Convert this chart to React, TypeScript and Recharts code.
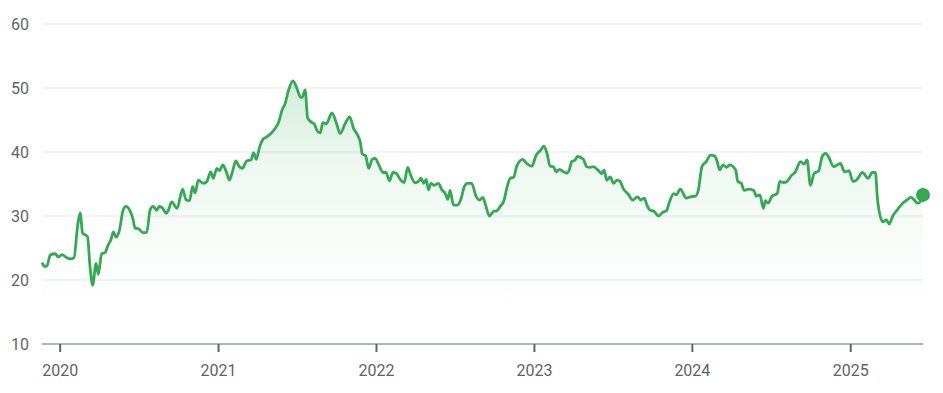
import React from 'react';
import { ComposedChart, Area, XAxis, YAxis, CartesianGrid, ReferenceDot } from 'recharts';

const dates: string[] = [
  '2019-11-20','2019-11-27','2019-12-02','2019-12-09','2019-12-20','2019-12-28',
  '2020-01-05','2020-01-16','2020-01-24','2020-02-02','2020-02-10','2020-02-16','2020-02-22','2020-02-27',
  '2020-03-04','2020-03-10','2020-03-16','2020-03-24','2020-03-29','2020-04-06','2020-04-14','2020-04-21',
  '2020-04-27','2020-05-03','2020-05-09','2020-05-17','2020-05-25','2020-06-01','2020-06-09','2020-06-17',
  '2020-06-22','2020-06-30','2020-07-10','2020-07-19','2020-07-27','2020-08-03','2020-08-11','2020-08-17',
  '2020-08-25','2020-09-02','2020-09-07','2020-09-15','2020-09-27','2020-10-10','2020-10-18','2020-10-26',
  '2020-11-02','2020-11-08','2020-11-15','2020-11-27','2020-12-05','2020-12-14','2020-12-20','2020-12-28',
  '2021-01-03','2021-01-11','2021-01-19','2021-01-26','2021-02-02','2021-02-10','2021-02-18','2021-02-25',
  '2021-03-07','2021-03-17','2021-03-23','2021-03-29','2021-04-06','2021-04-14','2021-04-23','2021-05-02',
  '2021-05-12','2021-05-20','2021-05-28','2021-06-04','2021-06-12','2021-06-22','2021-07-01','2021-07-09',
  '2021-07-13','2021-07-20','2021-07-26','2021-08-05','2021-08-10','2021-08-18','2021-08-24','2021-08-30',
  '2021-09-07','2021-09-20','2021-09-30','2021-10-09','2021-10-21','2021-10-31','2021-11-09','2021-11-18',
  '2021-11-25','2021-11-29','2021-12-07','2021-12-14','2021-12-22','2021-12-29',
  '2022-01-05','2022-01-16','2022-01-23','2022-01-31','2022-02-08','2022-02-15','2022-02-25','2022-03-06',
  '2022-03-14','2022-03-21','2022-03-31','2022-04-08','2022-04-14','2022-04-20','2022-04-26','2022-05-01',
  '2022-05-07','2022-05-14','2022-05-24','2022-06-01','2022-06-09','2022-06-15','2022-06-20','2022-06-28',
  '2022-07-07','2022-07-15','2022-07-23','2022-07-30','2022-08-09','2022-08-19','2022-08-27','2022-09-04',
  '2022-09-09','2022-09-19','2022-09-28','2022-10-06','2022-10-14','2022-10-23','2022-10-29','2022-11-06',
  '2022-11-14','2022-11-21','2022-12-05','2022-12-14','2022-12-26',
  '2023-01-05','2023-01-14','2023-01-23','2023-01-30','2023-02-06','2023-02-14','2023-02-20','2023-02-28',
  '2023-03-09','2023-03-17','2023-03-23','2023-03-28','2023-04-05','2023-04-10','2023-04-24','2023-05-02',
  '2023-05-10','2023-05-17','2023-05-29','2023-06-06','2023-06-11','2023-06-17','2023-06-25','2023-07-03',
  '2023-07-11','2023-07-18','2023-07-26','2023-08-06','2023-08-16','2023-08-27','2023-09-04','2023-09-12',
  '2023-09-18','2023-09-26','2023-10-03','2023-10-15','2023-10-25','2023-11-02','2023-11-09','2023-11-19',
  '2023-11-25','2023-12-04','2023-12-18','2023-12-27',
  '2024-01-08','2024-01-15','2024-01-23','2024-02-02','2024-02-12','2024-02-21','2024-02-27','2024-03-04',
  '2024-03-12','2024-03-20','2024-03-27','2024-04-10','2024-04-15','2024-04-23','2024-04-30','2024-05-10',
  '2024-05-22','2024-05-28','2024-06-05','2024-06-13','2024-06-18','2024-06-24','2024-07-03','2024-07-15',
  '2024-07-21','2024-07-30','2024-08-07','2024-08-16','2024-08-26','2024-09-07','2024-09-15','2024-09-22',
  '2024-09-30','2024-10-08','2024-10-19','2024-10-27','2024-11-04','2024-11-11','2024-11-23','2024-12-01',
  '2024-12-08','2024-12-18','2024-12-28',
  '2025-01-06','2025-01-14','2025-01-28','2025-02-10','2025-02-20','2025-02-27','2025-03-04','2025-03-16',
  '2025-03-24','2025-03-31','2025-04-08','2025-04-19','2025-05-01','2025-05-11','2025-05-20','2025-05-28',
  '2025-06-04','2025-06-10','2025-06-17',
];

const prices: number[] = [
  22.7, 22.1, 22.3, 23.9, 24.1, 23.6,
  23.95, 23.5, 23.3, 23.5, 28.3, 30.5, 27.3, 27.1,
  26.8, 22.1, 19.2, 22.6, 20.9, 24.1, 24.3, 25.5,
  26.25, 27.5, 26.7, 27.8, 30.8, 31.5, 31.0, 29.6,
  28.1, 28.0, 27.4, 27.45, 31.0, 31.5, 30.9, 31.5,
  31.2, 30.4, 30.9, 32.2, 31.2, 34.2, 32.5, 32.4,
  34.6, 33.6, 35.6, 35.1, 35.4, 36.9, 35.9, 37.45,
  37.1, 38.0, 36.9, 35.6, 36.9, 38.6, 37.7, 37.45,
  38.6, 38.75, 39.9, 38.85, 40.8, 42.0, 42.4, 42.9,
  43.7, 44.7, 46.6, 47.6, 49.7, 51.1, 49.95, 48.6,
  48.5, 49.7, 45.3, 44.6, 44.4, 43.2, 43.0, 44.6,
  44.4, 46.1, 44.6, 42.9, 44.5, 45.5, 43.7, 42.7,
  41.4, 39.7, 39.4, 37.45, 38.85, 39.0,
  38.2, 36.8, 36.8, 35.5, 36.8, 36.7, 35.7, 35.2,
  37.6, 36.4, 35.2, 35.4, 35.9, 35.1, 35.7, 34.1,
  35.1, 34.8, 35.1, 34.1, 33.5, 32.6, 34.0, 31.7,
  31.7, 32.6, 34.6, 35.1, 35.1, 33.1, 32.5, 32.9,
  32.0, 30.0, 30.7, 30.8, 31.5, 32.5, 34.3, 35.9,
  36.05, 37.8, 38.85, 38.2, 37.8,
  39.5, 40.2, 40.9, 39.8, 37.8, 37.7, 36.9, 37.3,
  36.9, 36.7, 37.3, 38.5, 38.75, 39.3, 38.85, 37.7,
  37.6, 37.7, 37.1, 36.6, 37.2, 35.6, 36.1, 35.1,
  35.6, 35.4, 34.2, 33.4, 32.5, 33.0, 32.5, 32.8,
  31.7, 30.9, 30.8, 30.0, 30.6, 30.8, 32.2, 33.5,
  33.3, 34.2, 32.8, 33.0,
  33.1, 34.1, 37.7, 38.5, 39.5, 39.4, 38.6, 37.2,
  38.0, 37.6, 38.0, 37.2, 35.4, 35.1, 34.0, 34.2,
  34.0, 33.1, 33.3, 31.2, 32.4, 32.0, 33.1, 33.5,
  35.4, 35.2, 35.4, 36.25, 36.9, 38.5, 38.1, 38.75,
  34.8, 36.6, 37.1, 39.3, 39.8, 39.2, 37.7, 38.0,
  38.2, 36.9, 37.1,
  35.4, 35.6, 36.8, 35.9, 36.8, 36.8, 32.5, 29.1,
  29.4, 28.75, 30.0, 31.0, 32.0, 32.5, 32.9, 32.5,
  32.0, 32.2, 33.3,
];

const yearTickDates: string[] = ['2020-01-01', '2021-01-01', '2022-01-01', '2023-01-01', '2024-01-01', '2025-01-01'];
const yearTickLabels: string[] = ['2020', '2021', '2022', '2023', '2024', '2025'];
const priceTicks: number[] = [10, 20, 30, 40, 50, 60];

const toTime = (d: string) => Date.parse(d + 'T00:00:00Z');

const data = dates.map((d, i) => ({ t: toTime(d), v: prices[i] }));
const yearTicks = yearTickDates.map(toTime);
const last = data[data.length - 1];

const GREEN = '#34a853';
const TEXT = '#5f6368';
const FONT = 'Roboto, Arial, sans-serif';

export default function App() {
  return (
    <div style={{ position: 'absolute', left: 0, top: 0, width: 943, height: 393, background: '#fff' }}>
      <ComposedChart width={943} height={393} data={data} margin={{ top: 24, right: 20, left: 0, bottom: 0 }}>
        <defs>
          <linearGradient id="areaFill" x1="0" y1="0" x2="0" y2="1">
            <stop offset="0%" stopColor={GREEN} stopOpacity={0.36} />
            <stop offset="35%" stopColor={GREEN} stopOpacity={0.15} />
            <stop offset="75%" stopColor={GREEN} stopOpacity={0.05} />
            <stop offset="100%" stopColor={GREEN} stopOpacity={0.01} />
          </linearGradient>
        </defs>
        <CartesianGrid vertical={false} stroke="#efefef" strokeWidth={1.5} />
        <XAxis
          dataKey="t"
          type="number"
          domain={['dataMin', 'dataMax']}
          ticks={yearTicks}
          tickFormatter={(t: number) => yearTickLabels[yearTicks.indexOf(t)] ?? ''}
          height={49}
          axisLine={{ stroke: '#9aa0a6', strokeWidth: 1.5 }}
          tickLine={{ stroke: '#5f6368', strokeWidth: 2 }}
          tickSize={8}
          tickMargin={13}
          tick={{ fill: TEXT, fontSize: 16, fontFamily: FONT }}
          interval={0}
        />
        <YAxis
          domain={[10, 60]}
          ticks={priceTicks}
          width={42}
          axisLine={false}
          tickLine={false}
          tickSize={0}
          tickMargin={13}
          tick={{ fill: TEXT, fontSize: 16, fontFamily: FONT }}
          interval={0}
          allowDataOverflow
        />
        <Area
          type="monotone"
          dataKey="v"
          stroke={GREEN}
          strokeWidth={2.8}
          fill="url(#areaFill)"
          baseValue={16.9}
          dot={false}
          activeDot={false}
          isAnimationActive={false}
        />
        <ReferenceDot x={last.t} y={last.v} r={7} fill={GREEN} stroke="none" />
      </ComposedChart>
    </div>
  );
}
